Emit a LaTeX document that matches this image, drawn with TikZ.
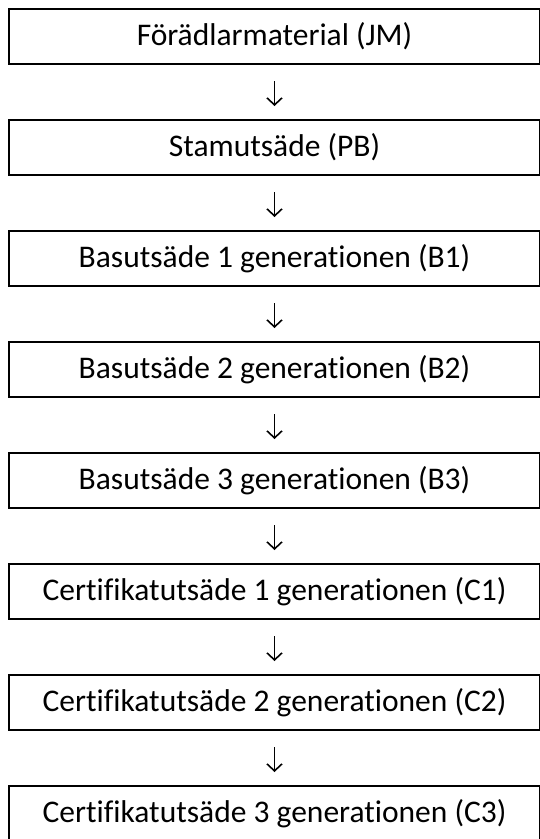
\documentclass[tikz,border=0pt]{standalone}
\usepackage{fontspec}
\setmainfont{Carlito}[Ligatures={NoCommon}]
\usetikzlibrary{arrows.meta}
\begin{document}
\begin{tikzpicture}[x=1pt,y=-1pt,
  stage/.style={draw, line width=2pt, outer sep=0pt, inner sep=0pt,
    minimum width=531pt, minimum height=55pt, anchor=north west,
    font=\fontsize{31.5}{35}\selectfont},
  link/.style={line width=1.6pt, -{Straight Barb[length=7pt,width=15pt]},
    shorten <=17pt, shorten >=14pt}]
\useasboundingbox (0,0) rectangle (539,839);
% the eight seed generations, one box each
\node[stage] (jm) at (9,9)   {Förädlarmaterial (JM)};
\node[stage] (pb) at (9,120) {Stamutsäde (PB)};
\node[stage] (b1) at (9,231) {Basutsäde 1 generationen (B1)};
\node[stage] (b2) at (9,342) {Basutsäde 2 generationen (B2)};
\node[stage] (b3) at (9,453) {Basutsäde 3 generationen (B3)};
\node[stage] (c1) at (9,564) {Certifikatutsäde 1 generationen (C1)};
\node[stage] (c2) at (9,675) {Certifikatutsäde 2 generationen (C2)};
\node[stage] (c3) at (9,786) {Certifikatutsäde 3 generationen (C3)};
% arrows from each generation to the next
\draw[link] (jm.south) -- (pb.north);
\draw[link] (pb.south) -- (b1.north);
\draw[link] (b1.south) -- (b2.north);
\draw[link] (b2.south) -- (b3.north);
\draw[link] (b3.south) -- (c1.north);
\draw[link] (c1.south) -- (c2.north);
\draw[link] (c2.south) -- (c3.north);
\end{tikzpicture}
\end{document}
